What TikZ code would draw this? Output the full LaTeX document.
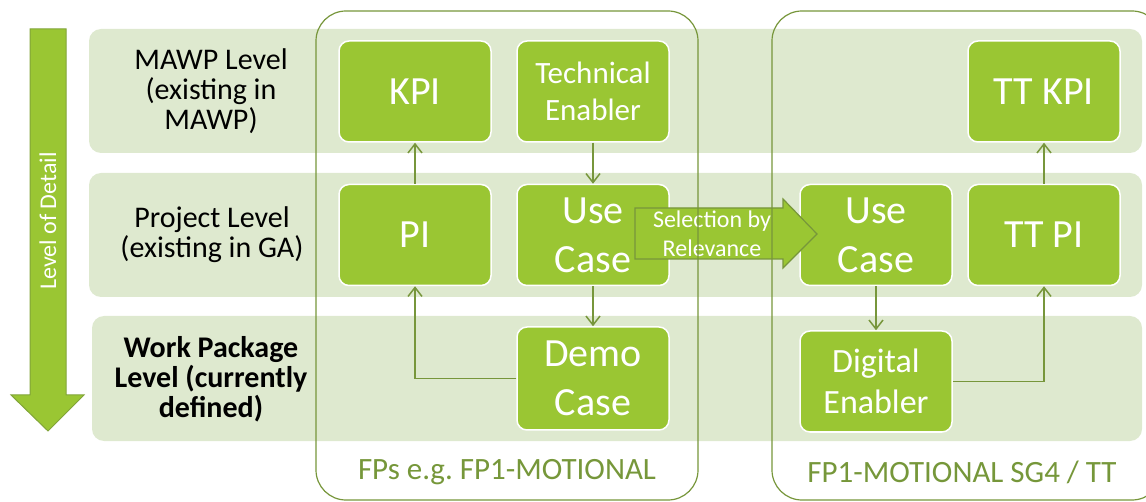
\documentclass[tikz,border=0pt]{standalone}
\usepackage{fontspec}
\setmainfont{Carlito}
\usetikzlibrary{arrows.meta}
\frenchspacing

\definecolor{bandgreen}{HTML}{DEE9CF}
\definecolor{limegreen}{HTML}{9AC633}
\definecolor{olivegreen}{HTML}{77963B}
\definecolor{olivetext}{HTML}{76973A}

\tikzset{
  band/.style={fill=bandgreen, rounded corners=12pt},
  container/.style={draw=olivegreen, line width=1.2pt, rounded corners=30pt},
  block/.style={draw=white, line width=1.5pt, fill=limegreen, rounded corners=10pt,
    minimum width=152pt, minimum height=101pt, text=white, align=center, inner sep=0pt},
  link/.style={draw=olivegreen, line width=1.5pt, -{Straight Barb[length=9pt,width=14pt,line width=1.5pt]}},
  levellabel/.style={align=center, font=\fontsize{30}{30}\selectfont},
  big/.style={font=\fontsize{40}{49}\selectfont},
  fplabel/.style={text=olivetext, font=\fontsize{31}{37}\selectfont}
}

\begin{document}
\begin{tikzpicture}[x=1pt, y=-1pt]
  \useasboundingbox (0,0) rectangle (1146,502);

  % Level bands
  \fill[band] (89,29) rectangle (1142,153);
  \fill[band] (89,173) rectangle (1142,297);
  \fill[band] (92,316) rectangle (1142,441);

  % Level of detail arrow
  \draw[fill=limegreen, draw=olivegreen!70!limegreen, line width=1pt]
    (30,29) -- (66,29) -- (66,395) -- (84,395) -- (48,431) -- (11,395) -- (30,395) -- cycle;
  \node[rotate=90, text=white, font=\fontsize{24}{29}\selectfont] (detail) at (48,221) {Level of Detail};

  % Level labels
  \node[levellabel] (mawp) at (211,91) {MAWP Level\\(existing in\\MAWP)};
  \node[levellabel] (project) at (212,235) {Project Level\\(existing in GA)};
  \node[levellabel, font=\bfseries\fontsize{30}{30}\selectfont] (wp) at (211,379) {Work Package\\Level (currently\\defined)};

  % FP blocks
  \node[block, big] (kpi) at (415,91.5) {KPI};
  \node[block, font=\fontsize{31}{37}\selectfont] (tech) at (593,91.5) {Technical\\Enabler};
  \node[block, big] (pi) at (415,235) {PI};
  \node[block, big] (ucl) at (593,235) {Use\\Case};
  \node[block, big, minimum height=103pt] (demo) at (593,378.5) {Demo\\Case};

  % SG4 / TT blocks
  \node[block, big] (ttkpi) at (1044,91.5) {TT KPI};
  \node[block, big] (ucr) at (876,235) {Use\\Case};
  \node[block, big] (ttpi) at (1044,235) {TT PI};
  \node[block, font=\fontsize{34}{41}\selectfont] (digi) at (876,381.5) {Digital\\Enabler};

  % Connectors
  \draw[link] (pi.north) -- (kpi.south);
  \draw[link] (tech.south) -- (ucl.north);
  \draw[link] (ucl.south) -- (demo.north);
  \draw[link] (demo.west) -| (pi.south);
  \draw[link] (ucr.south) -- (digi.north);
  \draw[link] (digi.east) -| (ttpi.south);
  \draw[link] (ttpi.north) -- (ttkpi.south);

  % Selection arrow
  \draw[fill=limegreen, draw=olivegreen, line width=1.2pt]
    (635,208) -- (783,208) -- (783,199) -- (817,234) -- (783,268) -- (783,259) -- (635,259) -- cycle;
  \node[text=white, align=center, font=\fontsize{24}{29}\selectfont] (select) at (712,234) {Selection by\\Relevance};

  % Containers
  \draw[container] (316,11) rectangle (698,500);
  \draw[container] (772,11) rectangle (1162,500);
  \node[fplabel] (fps) at (507,472) {FPs e.g. FP1-MOTIONAL};
  \node[fplabel] (sg4) at (962,472) {FP1-MOTIONAL SG4 / TT};
\end{tikzpicture}
\end{document}
